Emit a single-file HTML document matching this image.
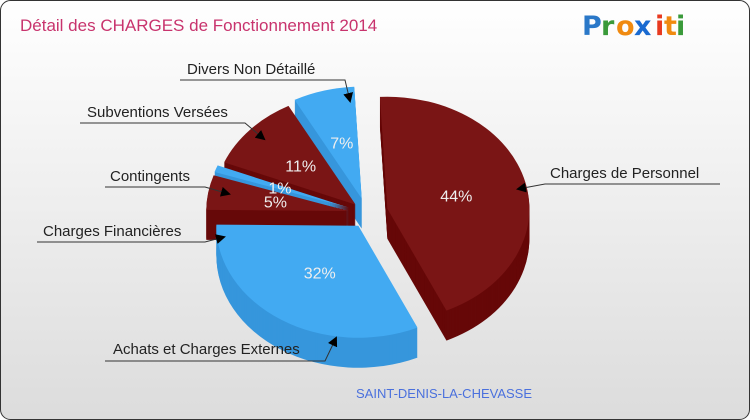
<!DOCTYPE html>
<html><head><meta charset="utf-8"><style>
body{margin:0;width:750px;height:420px;overflow:hidden;font-family:"Liberation Sans",sans-serif}
svg{display:block}
</style></head><body>
<svg width="750" height="420" viewBox="0 0 750 420">
<defs>
<linearGradient id="bg" x1="0" y1="0" x2="0" y2="1"><stop offset="0" stop-color="#ffffff"/><stop offset="1" stop-color="#dcdcdc"/></linearGradient>
<marker id="ar" markerWidth="10" markerHeight="10" refX="8" refY="5" orient="auto" markerUnits="userSpaceOnUse"><path d="M0,0 L10,5 L0,10 Z" fill="#000"/></marker>
</defs>
<rect x="0.5" y="0.5" width="749" height="419" rx="10" fill="url(#bg)" stroke="#333"/>
<text x="20" y="31" font-size="17" fill="#c8336d">Détail des CHARGES de Fonctionnement 2014</text>
<g font-family="'Comic Sans MS','DejaVu Sans',sans-serif" font-size="27" font-weight="bold">
<text x="582" y="35" fill="#2a78c8">P</text><text x="601" y="35" fill="#3a9a3a">r</text><text x="616" y="35" fill="#f08a10">o</text><text x="634" y="35" fill="#1a6ad0">x</text><text x="655" y="35" fill="#e83a20">i</text><text x="664" y="35" fill="#f08a10">t</text><text x="676" y="35" fill="#3a9a3a">i</text>
</g>
<g id="pie"></g>
<g id="labels" font-size="15" fill="#222"></g>
<text x="356" y="398" font-size="13" fill="#4a70dd">SAINT-DENIS-LA-CHEVASSE</text>
</svg>
<script>
const categories=["Charges de Personnel","Achats et Charges Externes","Charges Financières","Contingents","Subventions Versées","Divers Non Détaillé"];
const values=[44,32,5,1,11,7];
const pctLabels=["44%","32%","5%","1%","11%","7%"];
const colorKind=["red","blue","red","blue","red","blue"];
const explode=[22,14,18,18,14,16];
const CX=366,CY=214,RX=142,RY=112,DEPTH=30,START=-93;
const tops={red:"#7a1515",blue:"#42aaf2"};
const sides={red:"#660808",blue:"#3696dc"};
const NS="http://www.w3.org/2000/svg";
const pie=document.getElementById('pie');
const total=values.reduce((a,b)=>a+b,0);
let a=START*Math.PI/180;
const slices=[];
values.forEach((v,i)=>{const sw=v/total*2*Math.PI;slices.push({i,a0:a,a1:a+sw,mid:a+sw/2});a+=sw;});
function path(s,cx,cy){
  const p0x=cx+RX*Math.cos(s.a0),p0y=cy+RY*Math.sin(s.a0);
  const p1x=cx+RX*Math.cos(s.a1),p1y=cy+RY*Math.sin(s.a1);
  const large=(s.a1-s.a0)>Math.PI?1:0;
  return `M${cx},${cy} L${p0x},${p0y} A${RX},${RY} 0 ${large} 1 ${p1x},${p1y} Z`;
}
slices.slice().sort((p,q)=>Math.sin(p.mid)-Math.sin(q.mid)).forEach(s=>{
  const cx=CX+explode[s.i]*Math.cos(s.mid),cy=CY+explode[s.i]*Math.sin(s.mid);
  const g=document.createElementNS(NS,'g');
  
  
  for(let d=DEPTH;d>0;d-=1){
    const p=document.createElementNS(NS,'path');
    p.setAttribute('d',path(s,cx,cy+d));
    p.setAttribute('fill',sides[colorKind[s.i]]);
    g.appendChild(p);
  }
  const t=document.createElementNS(NS,'path');
  t.setAttribute('d',path(s,cx,cy));
  t.setAttribute('fill',tops[colorKind[s.i]]);
  g.appendChild(t);
  pie.appendChild(g);
  s.cx=cx;s.cy=cy;
});
slices.forEach(s=>{
  const f=values[s.i]<15?0.52:0.5;
  const tx=document.createElementNS(NS,'text');
  tx.setAttribute('x',s.cx+RX*f*Math.cos(s.mid));
  tx.setAttribute('y',s.cy+RY*f*Math.sin(s.mid)+6);
  tx.setAttribute('text-anchor','middle');
  tx.setAttribute('font-size','16');
  tx.setAttribute('fill','#eee');
  tx.textContent=pctLabels[s.i];
  
  
  document.getElementById('pie').appendChild(tx);
});
const leaders=[
 {t:0,tx:550,ty:178,lx1:720,lx2:545,ly:184,ax:518,ay:189},
 {t:1,tx:113,ty:354,lx1:105,lx2:325,ly:361,ax:336,ay:338},
 {t:2,tx:43,ty:236,lx1:37,lx2:205,ly:242,ax:224,ay:237},
 {t:3,tx:110,ty:181,lx1:105,lx2:205,ly:187,ax:229,ay:194},
 {t:4,tx:87,ty:117,lx1:80,lx2:245,ly:123,ax:264,ay:139},
 {t:5,tx:187,ty:74,lx1:180,lx2:345,ly:80,ax:350,ay:101}
];
const lg=document.getElementById('labels');
leaders.forEach(L=>{
  const tx=document.createElementNS(NS,'text');
  tx.setAttribute('x',L.tx);tx.setAttribute('y',L.ty);
  tx.textContent=categories[L.t];
  
  
  lg.appendChild(tx);
  const pl=document.createElementNS(NS,'polyline');
  pl.setAttribute('points',`${L.lx1},${L.ly} ${L.lx2},${L.ly} ${L.ax},${L.ay}`);
  pl.setAttribute('fill','none');pl.setAttribute('stroke','#333');pl.setAttribute('stroke-width','1');
  pl.setAttribute('marker-end','url(#ar)');
  
  
  lg.appendChild(pl);
});
</script>
</body></html>
